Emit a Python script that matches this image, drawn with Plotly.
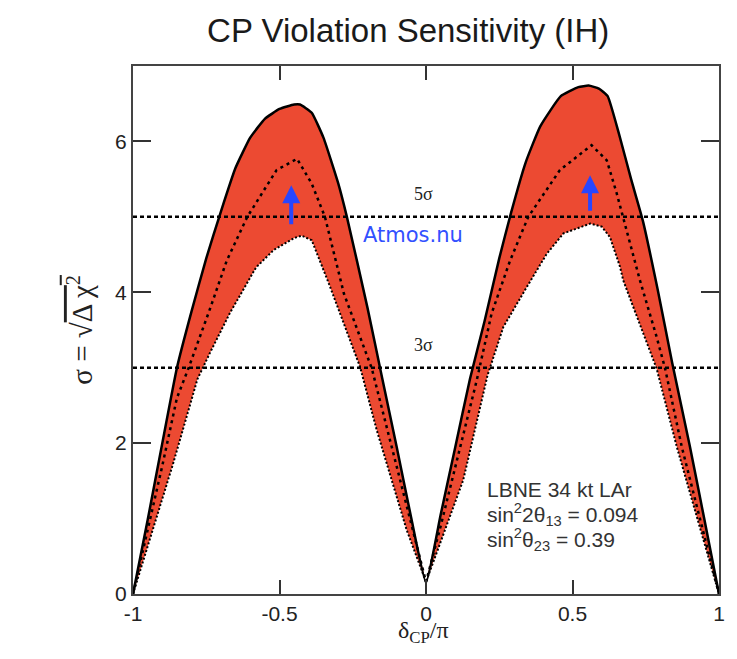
import plotly.graph_objects as go

# ---- data ----
upper_x = [-1, -0.95, -0.9, -0.85, -0.8, -0.75, -0.7, -0.65, -0.6, -0.55, -0.5, -0.45, -0.43, -0.39, -0.35,
           -0.3, -0.27, -0.2, -0.15, -0.1, -0.05, 0,
           0.05, 0.1, 0.15, 0.2, 0.25, 0.29, 0.34, 0.39, 0.46, 0.52, 0.555, 0.59, 0.62, 0.66, 0.7, 0.74,
           0.79, 0.84, 0.9, 0.95, 1]
upper_y = [0, 0.98, 2.0, 3.0, 3.75, 4.45, 5.07, 5.65, 6.05, 6.3, 6.43, 6.49, 6.49, 6.38, 6.05,
           5.45, 5.0, 3.8, 2.87, 1.95, 1.0, 0.15,
           1.05, 1.95, 2.85, 3.62, 4.45, 5.05, 5.72, 6.2, 6.6, 6.72, 6.74, 6.7, 6.6, 6.08, 5.5, 4.95,
           4.05, 3.07, 1.97, 0.99, 0]

middle_x = [-1, -0.95, -0.9, -0.85, -0.81, -0.74, -0.68, -0.61, -0.51, -0.44, -0.39, -0.345, -0.28,
            -0.185, -0.1, -0.05, 0,
            0.05, 0.1, 0.173, 0.224, 0.287, 0.349, 0.457, 0.565, 0.617, 0.651, 0.673, 0.73, 0.787,
            0.816, 0.873, 0.93, 1]
middle_y = [0, 0.85, 1.7, 2.6, 3.0, 3.75, 4.42, 5.0, 5.62, 5.77, 5.44, 5.0, 3.98,
            2.99, 1.69, 0.92, 0.16,
            0.9, 1.7, 2.83, 3.72, 4.42, 5.0, 5.62, 5.95, 5.75, 5.31, 5.0, 4.16, 3.41,
            2.99, 1.95, 1.07, 0]

lower_x = [-1, -0.95, -0.9, -0.863, -0.78, -0.737, -0.67, -0.58, -0.52, -0.45, -0.424, -0.39, -0.33,
           -0.225, -0.168, -0.066, 0,
           0.06, 0.127, 0.21, 0.264, 0.344, 0.412, 0.469, 0.56, 0.6, 0.628, 0.662, 0.673, 0.742,
           0.787, 0.856, 0.911, 1]
lower_y = [0, 0.63, 1.26, 1.73, 2.85, 3.2, 3.72, 4.33, 4.56, 4.72, 4.75, 4.69, 4.1,
           3.01, 2.17, 0.85, 0.16,
           0.8, 1.51, 2.9, 3.54, 4.07, 4.51, 4.78, 4.91, 4.87, 4.73, 4.34, 4.16, 3.45,
           2.99, 1.95, 1.2, 0]

sigma_levels = [3, 5]
sigma_labels = ["3σ", "5σ"]

x_ticks = [-1, -0.5, 0, 0.5, 1]
x_tick_text = ["-1", "-0.5", "0", "0.5", "1"]
y_ticks = [0, 2, 4, 6]

arrow_x = [-0.46, 0.56]
arrow_tail = [4.77, 4.95]
arrow_head = [5.42, 5.55]

info_lines = ["LBNE 34 kt LAr",
              "sin<sup>2</sup>2θ<sub>13</sub> = 0.094",
              "sin<sup>2</sup>θ<sub>23</sub> = 0.39"]

RED = "rgb(236,74,50)"
SANS = "Liberation Sans, Arial, sans-serif"
SERIF = "Liberation Serif, Times New Roman, serif"

fig = go.Figure()

# red band between upper and lower curves
fig.add_trace(go.Scatter(
    x=upper_x + lower_x[::-1], y=upper_y + lower_y[::-1],
    fill="toself", fillcolor=RED, mode="none", hoverinfo="skip", showlegend=False))

fig.add_trace(go.Scatter(x=lower_x, y=lower_y, mode="lines",
                         line=dict(color="black", width=2, dash="2px,2px"), showlegend=False))
fig.add_trace(go.Scatter(x=middle_x, y=middle_y, mode="lines",
                         line=dict(color="black", width=2.5, dash="3px,4px"), showlegend=False))
fig.add_trace(go.Scatter(x=upper_x, y=upper_y, mode="lines", line_shape="spline",
                         line=dict(color="black", width=2.5, smoothing=0.4), showlegend=False))

for lvl, lab in zip(sigma_levels, sigma_labels):
    fig.add_trace(go.Scatter(x=[x_ticks[0], x_ticks[-1]], y=[lvl, lvl], mode="lines",
                             line=dict(color="black", width=2.5, dash="4px,3px"), showlegend=False))
    fig.add_annotation(x=-0.01, y=lvl + 0.3, text=lab, showarrow=False,
                       font=dict(family=SERIF, size=18, color="#222"))

for ax_, t, h in zip(arrow_x, arrow_tail, arrow_head):
    fig.add_annotation(x=ax_, y=h, ax=ax_, ay=t, xref="x", yref="y", axref="x", ayref="y",
                       showarrow=True, arrowhead=2, arrowsize=0.9, arrowwidth=4,
                       arrowcolor="rgb(40,70,255)", text=" ")

fig.add_annotation(x=-0.045, y=4.76, text="Atmos.nu", showarrow=False,
                   font=dict(family="DejaVu Sans, sans-serif", size=21, color="rgb(50,80,255)"))

for i, line in enumerate(info_lines):
    fig.add_annotation(x=0.2, y=1.38 - i * 0.33, text=line, showarrow=False, xanchor="left",
                       font=dict(family=SANS, size=21, color="#333"))

# axis titles placed as annotations
fig.add_annotation(xref="paper", yref="paper", x=-0.125, y=0.5, textangle=-90, showarrow=False,
                   text="σ = √<span style='text-decoration:overline'>Δ χ<sup>2</sup></span>",
                   font=dict(family=SERIF, size=29, color="#222"))
fig.add_annotation(xref="paper", yref="paper", x=0.495, y=-0.072, yanchor="middle", showarrow=False,
                   text="δ<sub>CP</sub>/π", font=dict(family=SERIF, size=24, color="#222"))

fig.update_layout(
    width=729, height=651,
    paper_bgcolor="white", plot_bgcolor="white",
    margin=dict(l=125, r=18, t=58, b=65),
    title=dict(text="CP Violation Sensitivity (IH)", x=0.549, xanchor="center", y=0.966, yanchor="middle",
               font=dict(family=SANS, size=33, color="#1a1a1a")),
    xaxis=dict(range=[-1, 1], tickvals=x_ticks, ticktext=x_tick_text, ticks="inside", ticklen=14,
               tickwidth=1.5, tickcolor="#333", mirror="ticks", showline=True, linecolor="#444",
               linewidth=2, showgrid=False, zeroline=False, automargin=False,
               tickfont=dict(family=SANS, size=21, color="#222")),
    yaxis=dict(range=[0, 7], tickvals=y_ticks, ticks="inside", ticklen=18, tickwidth=1.5,
               tickcolor="#333", mirror="ticks", showline=True, linecolor="#444", linewidth=2,
               showgrid=False, zeroline=False, automargin=False,
               tickfont=dict(family=SANS, size=21, color="#222")),
)

fig.write_html("out.html")
